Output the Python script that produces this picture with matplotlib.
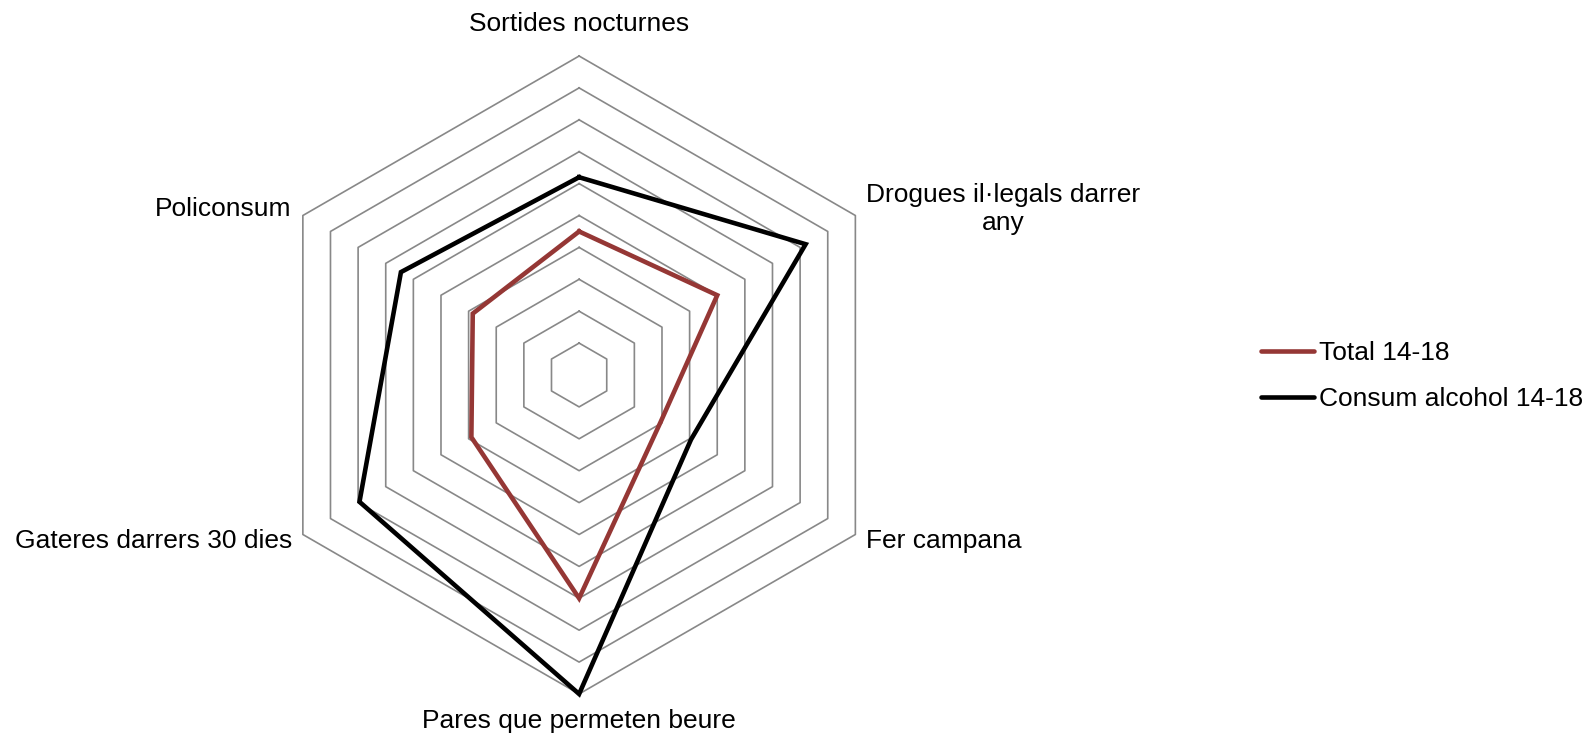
import numpy as np
import matplotlib
matplotlib.use("Agg")
import matplotlib.pyplot as plt

plt.rcParams["font.family"] = ["Liberation Sans", "DejaVu Sans"]

# Data (scale 0-100)
categories = [
    "Sortides nocturnes",
    "Drogues il·legals darrer\nany",
    "Fer campana",
    "Pares que permeten beure",
    "Gateres darrers 30 dies",
    "Policonsum",
]
total_14_18 = [45, 50, 29.5, 70, 39, 38.5]
alcohol_14_18 = [62, 82, 40.5, 100, 79.5, 64.5]
series_names = ["Total 14-18", "Consum alcohol 14-18"]
ring_values = [10, 20, 30, 40, 50, 60, 70, 80, 90, 100]

RED = "#953735"
GRID = "#888888"
FS = 19

n = len(categories)
angles = np.linspace(0, 2 * np.pi, n, endpoint=False)
closed = np.append(angles, angles[0])

fig = plt.figure(figsize=(15.89, 7.35), dpi=100)
ax = fig.add_axes([0.1637, 0.0558, 0.4015, 0.868], projection="polar")
ax.set_theta_zero_location("N")
ax.set_theta_direction(-1)
ax.set_ylim(0, 100)
ax.set_axis_off()

# hexagonal gridlines
for rv in ring_values:
    ax.plot(closed, [rv] * (n + 1), color=GRID, lw=1.2, clip_on=False, zorder=1)

ax.plot(closed, total_14_18 + total_14_18[:1], color=RED, lw=3.3,
        label=series_names[0], clip_on=False, zorder=3, solid_joinstyle="miter")
ax.plot(closed, alcohol_14_18 + alcohol_14_18[:1], color="black", lw=3.3,
        label=series_names[1], clip_on=False, zorder=3, solid_joinstyle="miter")

# category labels
label_pos = [
    (110, "center", "center"),
    (104, "left", "center"),
    (104, "left", "center"),
    (108.5, "center", "center"),
    (104, "right", "center"),
    (104, "right", "center"),
]
for ang, name, (r, ha, va) in zip(angles, categories, label_pos):
    ax.text(ang, r, name, ha=ha, va=va, multialignment="center",
            fontsize=FS, clip_on=False)

leg = fig.legend(loc="center left", bbox_to_anchor=(1261 / 1589, 1 - 376 / 735),
                 frameon=False, fontsize=FS, handlelength=2.0, handletextpad=0.2,
                 labelspacing=0.85, borderpad=0, borderaxespad=0)
for h in leg.get_lines():
    h.set_solid_capstyle("round")

fig.savefig("out.png", dpi=100)
